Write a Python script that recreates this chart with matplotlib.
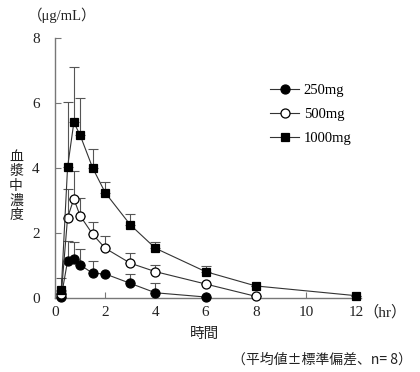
import matplotlib
matplotlib.use("Agg")
import matplotlib.pyplot as plt

plt.rcParams['font.family'] = ['Liberation Serif', 'Noto Sans CJK JP']

times = [0.25, 0.5, 0.75, 1, 1.5, 2, 3, 4, 6, 8, 12]
dose_250 = [0.04, 1.14, 1.20, 1.02, 0.76, 0.74, 0.45, 0.16, 0.03]
sd_250 = [0.0, 0.60, 0.53, 0.48, 0.39, 0.0, 0.30, 0.31, 0.0]
dose_500 = [0.12, 2.47, 3.05, 2.53, 1.96, 1.53, 1.07, 0.81, 0.43, 0.05]
sd_500 = [0.1, 0.88, 0.85, 0.56, 0.39, 0.39, 0.30, 0.21, 0.0, 0.0]
dose_1000 = [0.25, 4.02, 5.40, 5.01, 4.00, 3.24, 2.25, 1.53, 0.81, 0.37, 0.07]
sd_1000 = [0.35, 2.00, 1.70, 1.13, 0.57, 0.34, 0.33, 0.20, 0.17, 0.0, 0.0]
labels = ['250mg', '500mg', '1000mg']
x_ticks = [0, 2, 4, 6, 8, 10, 12]
y_ticks = [0, 2, 4, 6, 8]

fig = plt.figure(figsize=(4.2, 3.72), dpi=100)
ax = fig.add_axes([0.131, 0.199, 0.729, 0.699])

line_col = '#333333'
err_col = '#555555'

series = [
    (dose_250, sd_250, 'o', 'black', 6.5),
    (dose_500, sd_500, 'o', 'white', 6.5),
    (dose_1000, sd_1000, 's', 'black', 6.0),
]
handles = []
for (vals, sds, mk, fc, ms), lab in zip(series, labels):
    t = times[:len(vals)]
    ax.errorbar(t, vals, yerr=[[0]*len(sds), sds], fmt='none', ecolor=err_col,
                elinewidth=0.8, capsize=3.5, capthick=0.8, zorder=2)
    h, = ax.plot(t, vals, color=line_col, lw=0.8, marker=mk, markersize=ms,
                 markerfacecolor=fc, markeredgecolor='black', markeredgewidth=0.9,
                 label=lab, zorder=3, clip_on=False)
    handles.append(h)

ax.set_xlim(0, 12.2)
ax.set_ylim(0, 8)
ax.set_xticks(x_ticks)
ax.set_yticks(y_ticks)
ax.tick_params(direction='in', length=4, width=0.8, colors='#777777',
               labelcolor='#222222', labelsize=11)
ax.tick_params(axis='y', pad=11)
ax.tick_params(axis='x', pad=6)
for s in ['top', 'right']:
    ax.spines[s].set_visible(False)
for s in ['left', 'bottom']:
    ax.spines[s].set_color('#777777')
    ax.spines[s].set_linewidth(1.0)

leg = ax.legend(handles=handles, loc='upper left', bbox_to_anchor=(0.66, 0.875),
                frameon=False, fontsize=10.5, handlelength=2.0, labelspacing=0.75,
                handletextpad=0.3)

cjk = ['Noto Sans CJK JP']
fig.text(62/420, 1 - 15/372, '（μg/mL）', ha='center', va='center', fontsize=10.5,
         color='#222222')
fig.text(16/420, 1 - 186/372, '血\n漿\n中\n濃\n度', ha='center', va='center', fontsize=10,
         linespacing=1.05, color='#222222', family=cjk)
fig.text(205/420, 1 - 334/372, '時間', ha='center', va='center', fontsize=10.5,
         color='#222222', family=cjk)
fig.text(363/420, 1 - 312/372, '（hr）', ha='left', va='center', fontsize=11,
         color='#222222')
fig.text(412/420, 1 - 360/372, '（平均値±標準偏差、n= 8）', ha='right', va='center',
         fontsize=10, color='#222222', family=cjk)

fig.savefig('out.png', dpi=100)
